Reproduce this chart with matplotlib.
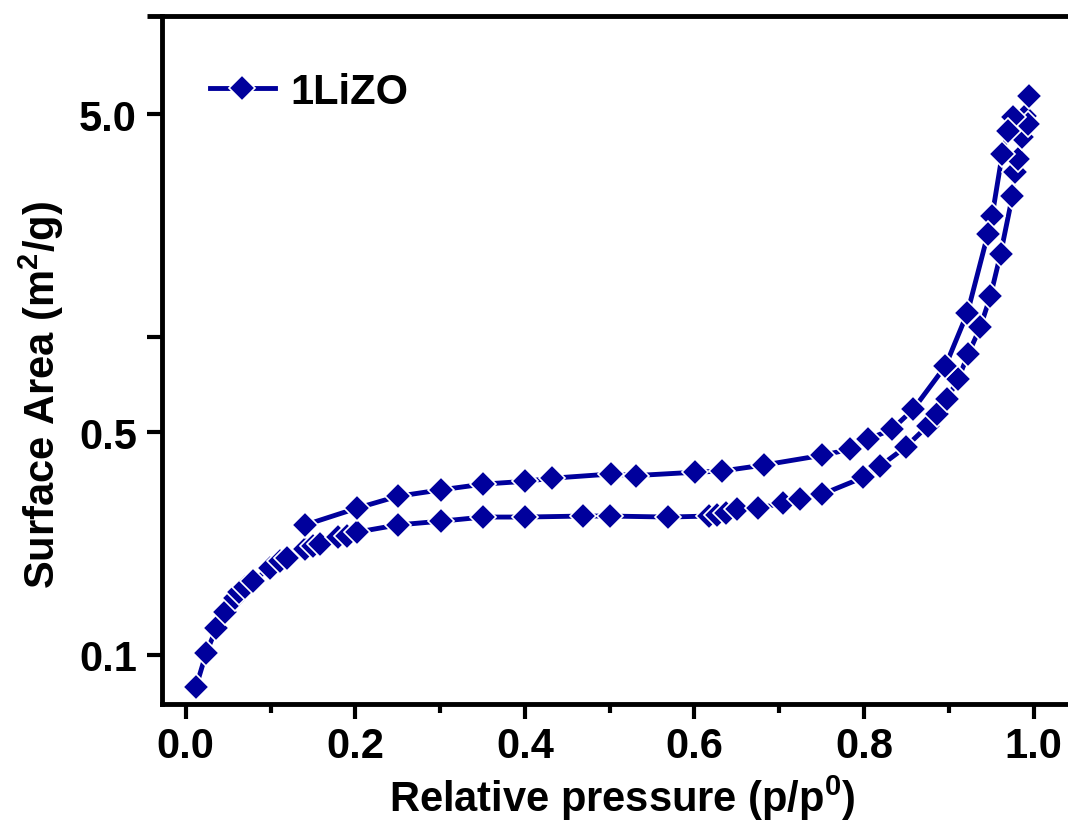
import matplotlib
matplotlib.use("Agg")
import matplotlib.pyplot as plt
from matplotlib.ticker import FixedLocator, FixedFormatter, MultipleLocator, NullLocator

plt.rcParams['font.family'] = ['Liberation Sans', 'DejaVu Sans']
plt.rcParams['font.weight'] = 'bold'
plt.rcParams['mathtext.fontset'] = 'custom'
plt.rcParams['mathtext.rm'] = 'Liberation Sans:bold'
plt.rcParams['mathtext.it'] = 'Liberation Sans:bold'
plt.rcParams['mathtext.bf'] = 'Liberation Sans:bold'

# Adsorption branch (relative pressure, surface area)
p_ads = [0.012, 0.024, 0.036, 0.046, 0.058, 0.063, 0.070, 0.079, 0.0995, 0.111,
         0.120, 0.141, 0.150, 0.158, 0.180, 0.190, 0.202, 0.250, 0.301, 0.351,
         0.400, 0.469, 0.500, 0.569, 0.617, 0.626, 0.637, 0.650, 0.675, 0.705,
         0.725, 0.751, 0.799, 0.819, 0.849, 0.875, 0.886, 0.898, 0.911, 0.923,
         0.937, 0.949, 0.961, 0.975, 0.978, 0.982, 0.986, 0.990, 0.994]
v_ads = [0.079, 0.101, 0.121, 0.136, 0.151, 0.157, 0.163, 0.170, 0.188, 0.197,
         0.201, 0.215, 0.220, 0.223, 0.234, 0.236, 0.243, 0.256, 0.263, 0.271,
         0.271, 0.273, 0.273, 0.271, 0.273, 0.275, 0.279, 0.287, 0.289, 0.300,
         0.308, 0.320, 0.361, 0.392, 0.450, 0.524, 0.571, 0.637, 0.736, 0.883,
         1.07, 1.34, 1.82, 2.77, 3.29, 3.62, 4.24, 4.94, 5.71]

# Desorption branch
p_des = [0.993, 0.976, 0.970, 0.963, 0.951, 0.946, 0.922, 0.896, 0.858, 0.833,
         0.805, 0.784, 0.751, 0.682, 0.632, 0.601, 0.531, 0.501, 0.432, 0.400,
         0.351, 0.301, 0.250, 0.202, 0.141]
v_des = [4.66, 4.90, 4.43, 3.75, 2.39, 2.10, 1.19, 0.809, 0.591, 0.512,
         0.476, 0.443, 0.424, 0.395, 0.378, 0.375, 0.366, 0.370, 0.359, 0.351,
         0.344, 0.330, 0.315, 0.289, 0.256]

x_ticks = [0.0, 0.2, 0.4, 0.6, 0.8, 1.0]
x_labels = ['0.0', '0.2', '0.4', '0.6', '0.8', '1.0']
y_ticks = [0.1, 0.5, 1.0, 5.0]
y_labels = ['0.1', '0.5', '', '5.0']

color = '#00009C'
FS = 30

W, H = 1068, 829
fig = plt.figure(figsize=(W / 100, H / 100), dpi=100)
left_px, right_px, top_px, bot_px = 162, 1076, 17, 705
ax = fig.add_axes([left_px / W, 1 - bot_px / H, (right_px - left_px) / W, (bot_px - top_px) / H])

ax.plot(p_ads + p_des, v_ads + v_des, color=color, lw=3.5, marker='D', ms=13,
        mfc=color, mec='white', mew=1.2, label='1LiZO', zorder=3)

ax.set_yscale('log')
ax.set_xlim(-0.028, 1.05)
ax.set_ylim(0.070, 10.2)

ax.xaxis.set_major_locator(FixedLocator(x_ticks))
ax.xaxis.set_major_formatter(FixedFormatter(x_labels))
ax.xaxis.set_minor_locator(MultipleLocator(0.1))
ax.yaxis.set_major_locator(FixedLocator(y_ticks))
ax.yaxis.set_major_formatter(FixedFormatter(y_labels))
ax.yaxis.set_minor_locator(NullLocator())

for s in ax.spines.values():
    s.set_linewidth(3.5)
ax.tick_params(axis='both', which='major', direction='out', length=11, width=3,
               labelsize=FS, pad=5)
ax.tick_params(axis='x', which='minor', direction='out', length=6.5, width=3)
ax.tick_params(axis='y', which='major', pad=7)
for lab in ax.get_xticklabels() + ax.get_yticklabels():
    lab.set_fontweight('bold')

# top axis line extends to the left like the original
ax.plot([-0.0165, 0], [1, 1], transform=ax.transAxes, color='k', lw=3.5,
        clip_on=False, solid_capstyle='butt')

ax.set_xlabel(r'Relative pressure (p/p$^{0}$)', fontsize=FS, fontweight='bold')
ax.set_ylabel(r'Surface Area (m$^{2}$/g)', fontsize=FS, fontweight='bold')
ax.xaxis.set_label_coords(0.504, -0.100)
ax.yaxis.set_label_coords(-0.1055, 0.45)

ax.legend(loc='upper left', bbox_to_anchor=(0.0525, 0.919), frameon=False,
          borderpad=0, borderaxespad=0, handlelength=1.56, handletextpad=0.36,
          prop={'size': FS, 'weight': 'bold'})

fig.savefig('out.png', dpi=100)
